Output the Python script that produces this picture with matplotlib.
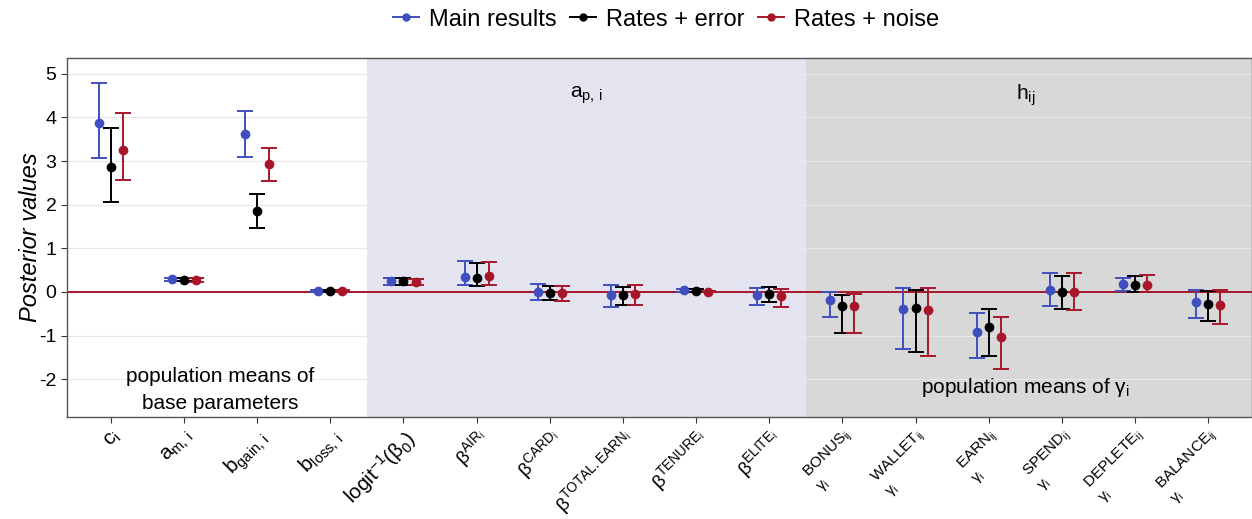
import matplotlib
matplotlib.use("Agg")
import matplotlib.pyplot as plt
import numpy as np
from matplotlib.lines import Line2D

plt.rcParams['font.family'] = ['Liberation Sans', 'DejaVu Sans']
plt.rcParams['mathtext.fontset'] = 'custom'
plt.rcParams['mathtext.rm'] = 'Liberation Sans'
plt.rcParams['mathtext.it'] = 'Liberation Sans:italic'
plt.rcParams['mathtext.bf'] = 'Liberation Sans:bold'

# parameter labels along the x axis
params = [
    r'$\mathrm{c}_\mathrm{i}$',
    r'$\mathrm{a}_{\mathrm{m,\,i}}$',
    r'$\mathrm{b}_{\mathrm{gain,\,i}}$',
    r'$\mathrm{b}_{\mathrm{loss,\,i}}$',
    r'$\mathrm{logit}^{-1}(\mathrm{β}_0)$',
    r'$\mathrm{β}^{\mathrm{AIR}_\mathrm{i}}$',
    r'$\mathrm{β}^{\mathrm{CARD}_\mathrm{i}}$',
    r'$\mathrm{β}^{\mathrm{TOTAL.EARN}_\mathrm{i}}$',
    r'$\mathrm{β}^{\mathrm{TENURE}_\mathrm{i}}$',
    r'$\mathrm{β}^{\mathrm{ELITE}_\mathrm{i}}$',
    'BONUS$_\\mathrm{ij}$\n$\\mathrm{γ}_\\mathrm{i}$',
    'WALLET$_\\mathrm{ij}$\n$\\mathrm{γ}_\\mathrm{i}$',
    'EARN$_\\mathrm{ij}$\n$\\mathrm{γ}_\\mathrm{i}$',
    'SPEND$_\\mathrm{ij}$\n$\\mathrm{γ}_\\mathrm{i}$',
    'DEPLETE$_\\mathrm{ij}$\n$\\mathrm{γ}_\\mathrm{i}$',
    'BALANCE$_\\mathrm{ij}$\n$\\mathrm{γ}_\\mathrm{i}$',
]
label_sizes = [15, 15, 15, 15, 15, 14, 14, 14, 14, 14, 11, 11, 11, 11, 11, 11]

# posterior means and interval bounds per model
main_mean = [3.87, 0.29, 3.62, 0.02, 0.24, 0.35, 0.01, -0.07, 0.04, -0.07,
             -0.18, -0.40, -0.91, 0.05, 0.18, -0.22]
main_lo = [3.08, 0.25, 3.10, 0.00, 0.16, 0.16, -0.18, -0.35, 0.01, -0.30,
           -0.57, -1.31, -1.51, -0.33, 0.03, -0.60]
main_hi = [4.78, 0.33, 4.15, 0.04, 0.31, 0.71, 0.19, 0.15, 0.07, 0.10,
           -0.01, 0.08, -0.49, 0.44, 0.32, 0.05]

err_mean = [2.86, 0.28, 1.85, 0.03, 0.25, 0.32, -0.02, -0.08, 0.03, -0.05,
            -0.32, -0.37, -0.80, 0.00, 0.17, -0.27]
err_lo = [2.05, 0.24, 1.47, 0.01, 0.16, 0.14, -0.19, -0.31, 0.00, -0.23,
          -0.94, -1.38, -1.47, -0.38, 0.01, -0.67]
err_hi = [3.76, 0.32, 2.24, 0.05, 0.31, 0.67, 0.13, 0.12, 0.06, 0.12,
          -0.07, 0.05, -0.40, 0.37, 0.37, 0.02]

noise_mean = [3.26, 0.27, 2.93, 0.02, 0.23, 0.36, -0.02, -0.05, 0.01, -0.10,
              -0.33, -0.41, -1.03, 0.00, 0.17, -0.30]
noise_lo = [2.56, 0.23, 2.55, 0.00, 0.15, 0.17, -0.21, -0.30, -0.01, -0.34,
            -0.94, -1.46, -1.77, -0.42, -0.01, -0.73]
noise_hi = [4.09, 0.31, 3.31, 0.04, 0.30, 0.69, 0.14, 0.17, 0.03, 0.06,
            -0.05, 0.09, -0.57, 0.43, 0.38, 0.04]

series_names = ['Main results', 'Rates + error', 'Rates + noise']
colors = ['#3F4FBF', '#000000', '#A8162A']

series = [
    (main_mean, main_lo, main_hi),
    (err_mean, err_lo, err_hi),
    (noise_mean, noise_lo, noise_hi),
]

fig = plt.figure(figsize=(12.52, 5.19), dpi=100)
ax = fig.add_axes([0.0535, 0.197, 0.9465, 0.692])

x = np.arange(1, len(params) + 1)
ax.set_xlim(0.4, 16.6)
ax.set_ylim(-2.86, 5.37)

# shaded blocks for the two parameter groups
ax.axvspan(4.5, 10.5, color='#E4E4F0', zorder=0, lw=0)
ax.axvspan(10.5, 16.6, color='#D8D8D8', zorder=0, lw=0)

for yv in range(-2, 6):
    ax.axhline(yv, color='#E8E8E8', lw=0.8, zorder=0.5)

ax.axhline(0, color='#A8162A', lw=1.4, zorder=1)

offsets = [-0.165, 0.0, 0.165]
for (m, lo, hi), off, c in zip(series, offsets, colors):
    m = np.array(m)
    yerr = np.vstack([m - np.array(lo), np.array(hi) - m])
    ax.errorbar(x + off, m, yerr=yerr, fmt='o', color=c, ms=6,
                elinewidth=1.4, capsize=6, capthick=1.4, zorder=3)

ax.set_xticks(x)
ax.set_xticklabels(params)
for lab, fs in zip(ax.get_xticklabels(), label_sizes):
    lab.set_rotation(45)
    lab.set_ha('right')
    lab.set_va('top')
    lab.set_rotation_mode('anchor')
    lab.set_fontsize(fs)
    lab.set_multialignment('left')

ax.set_yticks(range(-2, 6))
ax.set_yticklabels([str(v) for v in range(-2, 6)], fontsize=14)
ax.tick_params(axis='both', direction='out', length=4, color='#333333')
ax.tick_params(axis='x', pad=3)
ax.set_ylabel('Posterior values', fontsize=17, style='italic', labelpad=-2)

for s in ax.spines.values():
    s.set_color('#555555')
    s.set_linewidth(1.0)

# group annotations
ax.text(2.5, -2.25, 'population means of\nbase parameters', ha='center',
        va='center', fontsize=15, linespacing=1.55)
ax.text(7.5, 4.5, r'$\mathrm{a}_{\mathrm{p,\,i}}$', ha='center', va='center',
        fontsize=15)
ax.text(13.5, 4.5, r'$\mathrm{h}_{\mathrm{ij}}$', ha='center', va='center',
        fontsize=15)
ax.text(13.5, -2.2, r'population means of $\mathrm{γ}_\mathrm{i}$',
        ha='center', va='center', fontsize=15)

handles = [Line2D([0], [0], color=c, marker='o', ms=5, lw=1.4) for c in colors]
fig.legend(handles, series_names, loc='center', bbox_to_anchor=(0.532, 0.962),
           ncol=3, frameon=False, fontsize=17, handlelength=1.1,
           handletextpad=0.4, columnspacing=0.6)

fig.savefig('out.png', dpi=100)
